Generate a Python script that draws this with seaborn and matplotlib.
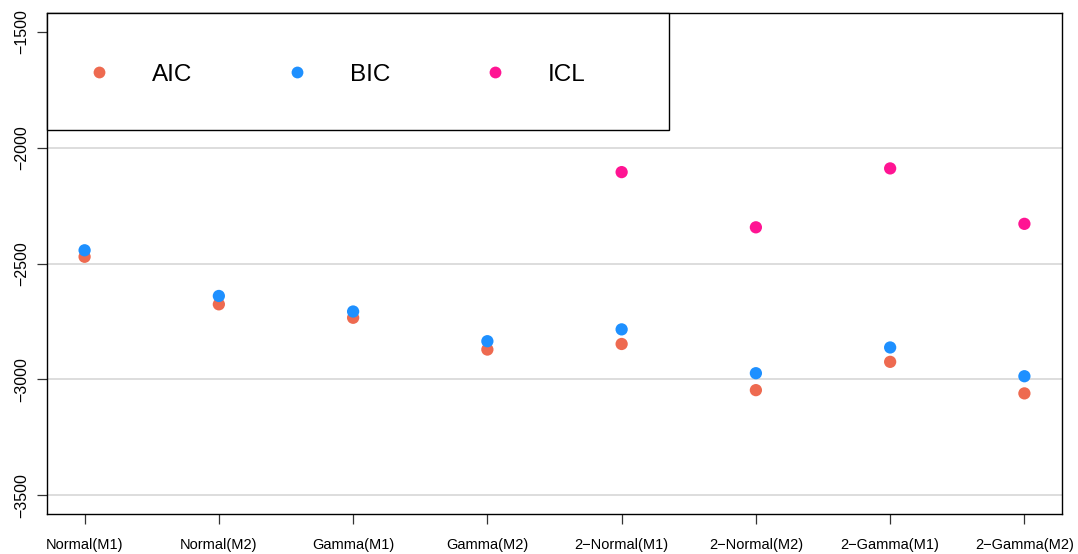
import numpy as np
import pandas as pd
import matplotlib
matplotlib.use("Agg")
import matplotlib.pyplot as plt
from matplotlib.lines import Line2D
from matplotlib.patches import Rectangle
import seaborn as sns

# Model-selection criteria for each fitted model
models = ["Normal(M1)", "Normal(M2)", "Gamma(M1)", "Gamma(M2)",
          "2-Normal(M1)", "2-Normal(M2)", "2-Gamma(M1)", "2-Gamma(M2)"]
aic = [-2471, -2676, -2734, -2871, -2847, -3046, -2924, -3060]
bic = [-2443, -2640, -2707, -2835, -2784, -2973, -2862, -2986]
icl = [np.nan, np.nan, np.nan, np.nan, -2106, -2344, -2090, -2329]
criteria = ["AIC", "BIC", "ICL"]
colors = ["#EE6A50", "#1E90FF", "#FF1493"]
yticks = [-3500, -3000, -2500, -2000, -1500]
grid_levels = [-3500, -3000, -2500, -2000]

df = pd.DataFrame({
    "model": models * 3,
    "criterion": np.repeat(criteria, len(models)),
    "value": aic + bic + icl,
})

sns.set_style("white")
plt.rcParams["font.family"] = ["Liberation Sans", "DejaVu Sans"]

fig = plt.figure(figsize=(10.78, 5.54), dpi=100)
ax = fig.add_axes([47 / 1078, 40 / 554, 1015 / 1078, 501 / 554])

for y in grid_levels:
    ax.axhline(y, color="#D3D3D3", lw=1.1, zorder=0)

sns.scatterplot(data=df, x="model", y="value", hue="criterion",
                palette=dict(zip(criteria, colors)), s=78, linewidth=0,
                legend=False, ax=ax, zorder=3)

ax.set_xlim(-0.28, len(models) - 1 + 0.28)
ax.set_ylim(-3580, -1420)
ax.set_xlabel("")
ax.set_ylabel("")
ax.set_xticks(range(len(models)))
ax.set_xticklabels([m.replace("-", "\u2212") for m in models])
ax.set_yticks(yticks)
ax.set_yticklabels([str(v).replace("-", "\u2212") for v in yticks],
                   rotation=90, va="center")
ax.tick_params(axis="both", which="major", length=7, width=0.9,
               color="#333333", labelcolor="black", direction="out",
               left=True, bottom=True)
ax.tick_params(axis="x", pad=10, labelsize=10.5)
ax.tick_params(axis="y", pad=6, labelsize=11.5)
for sp in ax.spines.values():
    sp.set_color("black")
    sp.set_linewidth(1.0)

# Legend box in the top-left corner of the plotting region
box_w, box_h = 622 / 1015, 117 / 501
box = Rectangle((0, 1 - box_h), box_w, box_h,
                transform=ax.transAxes, facecolor="white",
                edgecolor="black", lw=1.0, zorder=5, clip_on=False)
ax.add_patch(box)
handles = [Line2D([], [], ls="none", marker="o", ms=8.5, mec="none", mfc=c)
           for c in colors]
leg = ax.legend(handles, criteria, ncol=3, frameon=False,
                loc="center left",
                bbox_to_anchor=(0, 1 - box_h - 0.006, box_w, box_h),
                fontsize=17.5, borderpad=1.0, borderaxespad=0,
                handlelength=2.28, handletextpad=1.04, columnspacing=3.17)
for t in leg.get_texts():
    t.set_color("black")
leg.set_zorder(6)

fig.savefig("out.png", dpi=100)
